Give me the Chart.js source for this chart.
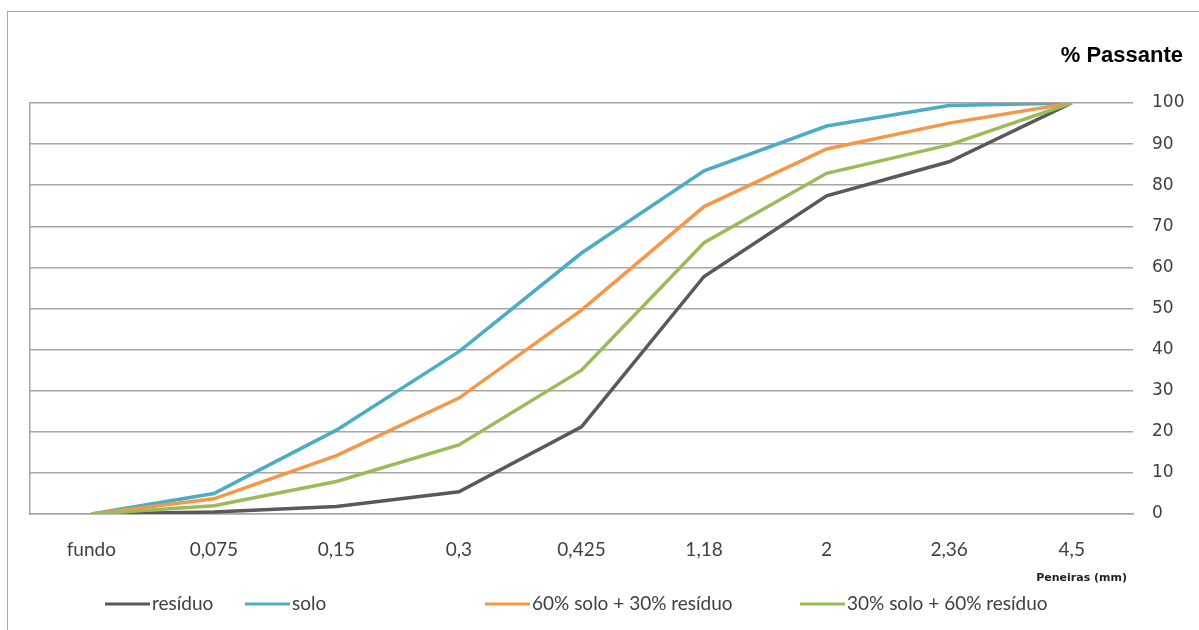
<!DOCTYPE html>
<html>
<head>
<meta charset="utf-8">
<script src="https://cdn.jsdelivr.net/npm/chart.js@4"></script>
<style>
  html, body { margin: 0; padding: 0; background: #fff; overflow: hidden; }
  #wrap { position: relative; width: 1199px; height: 630px; }
  #frame { position: absolute; left: 7px; top: 11px; width: 1300px; height: 700px; border: 1.5px solid #a8a8a8; }
  #chart { position: absolute; left: 0; top: 0; }
</style>
</head>
<body>
<div id="wrap">
  <div id="frame"></div>
  <canvas id="chart" width="1199" height="630"></canvas>
</div>
<script>
const peneiras = ["fundo", "0,075", "0,15", "0,3", "0,425", "1,18", "2", "2,36", "4,5"];
const seriesNames = ["resíduo", "solo", "60% solo + 30% resíduo", "30% solo + 60% resíduo"];
const residuo = [0, 0.5, 1.8, 5.4, 21.2, 57.8, 77.4, 85.7, 100];
const solo = [0, 5, 20.4, 39.5, 63.5, 83.5, 94.4, 99.4, 100];
const mix60solo = [0, 3.7, 14.2, 28.2, 49.6, 74.8, 88.8, 95.1, 100];
const mix30solo = [0, 2, 7.9, 16.8, 35, 66, 82.9, 89.8, 100];
const yTicks = [0, 10, 20, 30, 40, 50, 60, 70, 80, 90, 100];

const colors = ["#595959", "#4bacc6", "#f79646", "#9bbb59"];
const values = [residuo, solo, mix60solo, mix30solo];

// legend + extra labels, drawn by hand to match the original placement
const legendX = [105, 245, 485, 800];

const extras = {
  id: "extras",
  afterDraw(chart) {
    const ctx = chart.ctx;
    ctx.save();
    ctx.fillStyle = "#000";
    ctx.textBaseline = "middle";
    ctx.textAlign = "right";
    ctx.font = "bold 22px 'Liberation Sans', sans-serif";
    ctx.fillText("% Passante", 1183, 56);
    ctx.font = "bold 11px 'DejaVu Sans', sans-serif";
    ctx.fillStyle = "#222";
    ctx.fillText("Peneiras (mm)", 1127, 578);

    ctx.textAlign = "left";
    ctx.font = "19px Lato, sans-serif";
    chart.data.datasets.forEach((ds, i) => {
      const x = legendX[i];
      ctx.strokeStyle = ds.borderColor;
      ctx.lineWidth = 3;
      ctx.beginPath();
      ctx.moveTo(x, 604);
      ctx.lineTo(x + 45, 604);
      ctx.stroke();
      ctx.fillStyle = "#404040";
      ctx.fillText(ds.label, x + 47, 604);
    });
    ctx.restore();
  }
};

new Chart(document.getElementById("chart"), {
  type: "line",
  data: {
    labels: peneiras,
    datasets: values.map((v, i) => ({
      label: seriesNames[i],
      data: v,
      borderColor: colors[i],
      backgroundColor: colors[i],
      borderWidth: 3.5,
      pointRadius: 0,
      tension: 0,
      order: 4 - i
    }))
  },
  options: {
    responsive: false,
    animation: false,
    layout: { padding: { left: 30, right: 0, top: 103, bottom: 0 } },
    plugins: {
      legend: { display: false },
      tooltip: { enabled: false }
    },
    scales: {
      x: {
        offset: true,
        grid: { display: false, drawTicks: false },
        border: { display: true, color: "#a6a6a6", width: 1.5 },
        ticks: { padding: 24, color: "#404040", font: { family: "Lato", size: 19 }, maxRotation: 0 },
        afterFit(axis) { axis.height = 116; }
      },
      y: {
        position: "right",
        min: 0,
        max: 100,
        afterBuildTicks(axis) { axis.ticks = yTicks.map(v => ({ value: v })); },
        grid: { color: "#a6a6a6", lineWidth: 1.5, drawTicks: false },
        border: { display: false },
        ticks: { padding: 19, color: "#404040", font: { family: "DejaVu Sans", size: 17 } },
        afterFit(axis) { axis.width = 66; }
      },
      yl: {
        position: "left",
        min: 0,
        max: 100,
        grid: { display: false, drawTicks: false },
        border: { display: true, color: "#a6a6a6", width: 1.5 },
        ticks: { display: false },
        afterFit(axis) { axis.width = 0; }
      }
    }
  },
  plugins: [extras]
});
</script>
</body>
</html>
